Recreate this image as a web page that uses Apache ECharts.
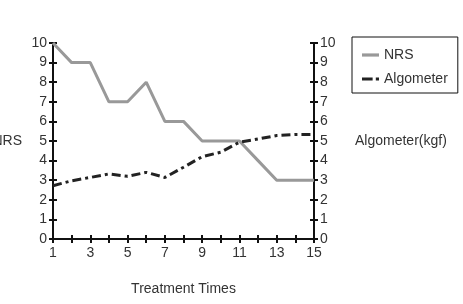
<!DOCTYPE html>
<html>
<head>
<meta charset="utf-8">
<script src="https://cdn.jsdelivr.net/npm/echarts@6/dist/echarts.min.js"></script>
<style>
html,body{margin:0;padding:0;background:#fff;}
#main{width:463px;height:304px;}
</style>
</head>
<body>
<div id="main"></div>
<script>
// 치료 회차
var times = [1,2,3,4,5,6,7,8,9,10,11,12,13,14,15];
var nrs = [10,9,9,7,7,8,6,6,5,5,5,4,3,3,3];
var algometer = [2.72,2.97,3.14,3.32,3.2,3.4,3.14,3.66,4.2,4.43,4.94,5.1,5.28,5.33,5.33];

var font = 'Liberation Sans';
var txt = '#333';

function pairs(ys){
	var out = [];
	for (var i = 0; i < times.length; i++) out.push([times[i], ys[i]]);
	return out;
}

var chart = echarts.init(document.getElementById('main'));

var yBase = {
	type: 'value',
	min: 0,
	max: 10,
	interval: 1,
	splitLine: {show: false},
	axisLine: {show: true, lineStyle: {color: '#111', width: 2}},
	axisTick: {show: true, length: 4, lineStyle: {color: '#111', width: 2}},
	axisLabel: {color: txt, fontFamily: font, fontSize: 14, margin: 6}
};

chart.setOption({
	animation: false,
	textStyle: {fontFamily: font},
	grid: {left: 53, right: 149, top: 43, bottom: 65, outerBoundsMode: 'none', containLabel: false},
	legend: {
		orient: 'vertical',
		left: 352,
		top: 37,
		width: 90,
		padding: [11, 10, 7, 10],
		itemGap: 10,
		itemWidth: 17,
		itemHeight: 4,
		borderColor: '#111',
		borderWidth: 1,
		textStyle: {color: txt, fontFamily: font, fontSize: 14},
		data: [
			{name: 'NRS', icon: 'path://M0,0H16V3H0Z'},
			{name: 'Algometer', icon: 'path://M0,0H10V3H0ZM13,0H16V3H13Z'}
		]
	},
	xAxis: [
		{
			type: 'value',
			min: 1,
			max: 15,
			interval: 1,
			name: 'Treatment Times',
			nameLocation: 'middle',
			nameGap: 43,
			nameTextStyle: {color: txt, fontFamily: font, fontSize: 14},
			splitLine: {show: false},
			axisLine: {lineStyle: {color: '#111', width: 2}},
			axisTick: {length: 4, lineStyle: {color: '#111', width: 2}},
			axisLabel: {
				color: txt, fontFamily: font, fontSize: 14, margin: 7,
				formatter: function(v){ return v % 2 === 1 ? String(v) : ''; }
			}
		},
		{
			type: 'value',
			position: 'bottom',
			min: 1,
			max: 15,
			interval: 1,
			splitLine: {show: false},
			axisLine: {show: false},
			axisTick: {show: true, inside: true, length: 4, lineStyle: {color: '#111', width: 2}},
			axisLabel: {show: false}
		}
	],
	yAxis: [
		Object.assign({}, yBase, {
			position: 'left',
			name: 'NRS',
			nameLocation: 'middle',
			nameRotate: 0,
			nameGap: 31,
			nameTextStyle: {color: txt, fontFamily: font, fontSize: 14}
		}),
		Object.assign({}, yBase, {
			position: 'right',
			name: 'Algometer(kgf)',
			nameLocation: 'middle',
			nameRotate: 0,
			nameGap: 41,
			nameTextStyle: {color: txt, fontFamily: font, fontSize: 14, align: 'left'}
		}),
		{
			type: 'value', position: 'left', min: 0, max: 10, interval: 1,
			splitLine: {show: false}, axisLine: {show: false}, axisLabel: {show: false},
			axisTick: {show: true, inside: true, length: 4, lineStyle: {color: '#111', width: 2}}
		},
		{
			type: 'value', position: 'right', min: 0, max: 10, interval: 1,
			splitLine: {show: false}, axisLine: {show: false}, axisLabel: {show: false},
			axisTick: {show: true, inside: true, length: 4, lineStyle: {color: '#111', width: 2}}
		}
	],
	series: [
		{
			name: 'NRS',
			type: 'line',
			yAxisIndex: 0,
			symbol: 'none',
			data: pairs(nrs),
			color: '#999',
			lineStyle: {color: '#999', width: 3}
		},
		{
			name: 'Algometer',
			type: 'line',
			yAxisIndex: 1,
			symbol: 'none',
			data: pairs(algometer),
			color: '#222',
			lineStyle: {color: '#222', width: 3, type: [9, 4, 3, 4]}
		}
	]
});
</script>
</body>
</html>
